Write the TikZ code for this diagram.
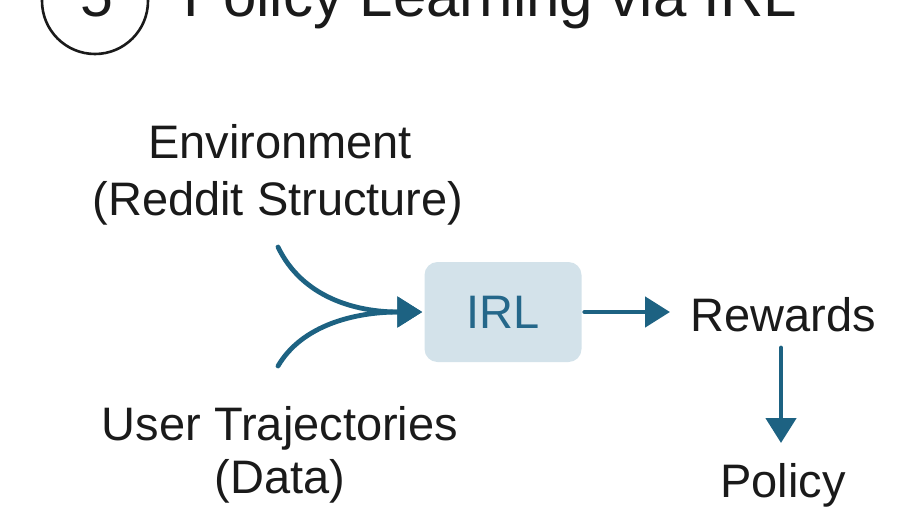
\documentclass[tikz,border=0pt]{standalone}
\usepackage{fontspec}
\setmainfont{Liberation Sans}
\usetikzlibrary{arrows.meta}
\definecolor{arrowblue}{HTML}{1D6282}
\definecolor{boxfill}{HTML}{D3E2EA}
\definecolor{irltext}{HTML}{24678A}
\definecolor{textdark}{HTML}{1A1A1A}
\tikzset{
  lbl/.style={font=\fontsize{47}{56}\selectfont, text=textdark, inner sep=0pt, anchor=base},
  flow/.style={draw=arrowblue, line width=4.8pt, line cap=round, -{Triangle[length=25pt,width=30pt]}},
  irlbox/.style={fill=boxfill, rounded corners=13pt, minimum width=157pt, minimum height=100pt, inner sep=0pt,
    font=\fontsize{47}{56}\selectfont, text=irltext}
}
\begin{document}
\begin{tikzpicture}[x=1pt,y=1pt]
\useasboundingbox (0,0) rectangle (918,-517);
% step circle and title
\node[draw=textdark, line width=2.6pt, circle, minimum size=106pt, inner sep=0pt] (stepcirc) at (95,-1) {};
\node[lbl, font=\fontsize{59}{66}\selectfont] (stepnum) at (97,-16) {5};
\node[lbl, anchor=base west, font=\fontsize{60}{66}\selectfont] (title) at (183,-16) {Policy Learning via IRL};
% text labels
\node[lbl] (env1) at (280,-158) {Environment};
\node[lbl] (env2) at (278,-215) {(Reddit Structure)};
\node[lbl] (usr1) at (280,-440) {User Trajectories};
\node[lbl] (usr2) at (280,-493) {(Data)};
\node[lbl] (rew) at (783,-331) {Rewards};
\node[lbl] (pol) at (783,-497) {Policy};
% IRL box
\node[irlbox] (irl) at (503,-312) {IRL};
% connectors
\coordinate (envend) at (278,-247);
\coordinate (usrend) at (278,-366);
\coordinate (rewin) at (670,-312);
\coordinate (rewbot) at (781,-348);
\coordinate (poltop) at (781,-443);
\draw[flow] (envend) .. controls (302,-297) and (355,-312) .. ([xshift=-2pt]irl.west);
\draw[flow] (usrend) .. controls (302,-325) and (355,-312) .. ([xshift=-2pt]irl.west);
\draw[flow] ([xshift=3pt]irl.east) -- (rewin);
\draw[flow] (rewbot) -- (poltop);
\end{tikzpicture}
\end{document}
